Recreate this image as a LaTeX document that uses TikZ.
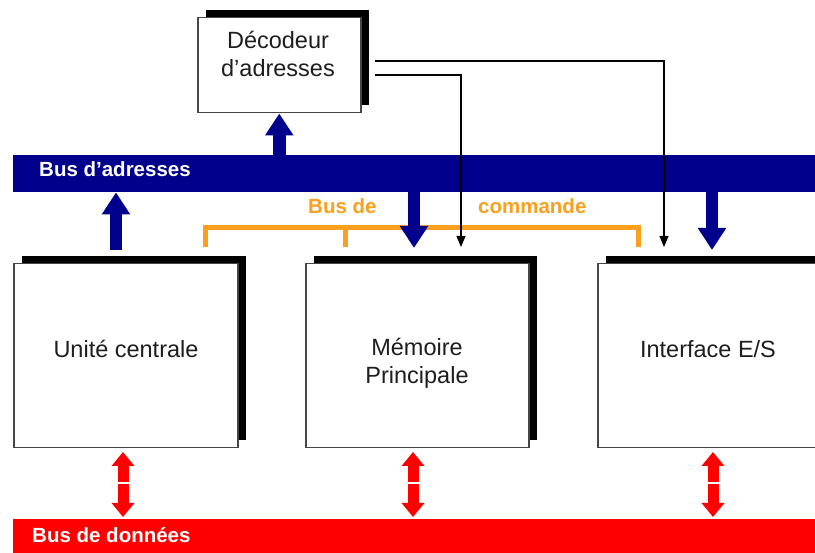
\documentclass[tikz,border=0pt]{standalone}
\usepackage{fontspec}
\setmainfont{Liberation Sans}
\usetikzlibrary{arrows.meta,shadows,calc}
\definecolor{busblue}{RGB}{0,0,140}
\definecolor{busred}{RGB}{255,0,0}
\definecolor{busorange}{RGB}{250,160,30}
\definecolor{txt}{RGB}{30,30,30}
\definecolor{edge}{RGB}{70,70,70}
\begin{document}
\begin{tikzpicture}[x=1pt,y=-1pt,
 unit/.style={draw=edge, line width=1.5pt, fill=white, inner sep=0pt, anchor=north west,
   drop shadow={shadow xshift=8pt, shadow yshift=8pt, fill=black, opacity=1}},
 lab/.style={text=txt, font=\fontsize{23.5}{28}\selectfont, align=center, inner sep=0pt},
 busbar/.style={inner sep=0pt, anchor=north west, minimum width=830pt},
 buslab/.style={font=\bfseries\fontsize{20.5}{24}\selectfont, inner sep=0pt, anchor=base west},
 bigarrow/.style={busblue, line width=12.5pt, -{Triangle[width=27pt,length=22pt]}},
 redarr/.style={busred, line width=11pt, -{Triangle[width=22pt,length=14pt]}},
 sig/.style={black, line width=1.2pt, -{Triangle[width=9pt,length=11pt]}},
 cmd/.style={busorange, line width=5pt}
]
\useasboundingbox (0,0) rectangle (815,553);
\clip (0,0) rectangle (815,553);
\fill[white] (0,0) rectangle (815,553);

% buses
\node[busbar, fill=busblue, minimum height=37pt] (ba) at (13,155) {};
\node[busbar, fill=busred, minimum height=40pt] (bd) at (13,519) {};
\node[buslab, text=white] (lba) at (39,177) {Bus d'adresses};
\node[buslab, text=white] (lbd) at (32,543) {Bus de données};

% boxes
\node[unit, minimum width=163pt, minimum height=95pt] (dec) at (197,17) {};
\node[unit, minimum width=224pt, minimum height=184pt] (cpu) at (13,263) {};
\node[unit, minimum width=223pt, minimum height=184pt] (mem) at (305,263) {};
\node[unit, minimum width=240pt, minimum height=184pt] (ie) at (597,263) {};

\node[lab] (tdec) at (278,54) {Décodeur\\d'adresses};
\node[lab, anchor=base] (tcpu) at (126,358) {Unité centrale};
\node[lab] (tmem) at (417,363.5) {Mémoire\\Principale};
\node[lab, anchor=base] (tie) at (708,358) {Interface E/S};

% bus de commande
\coordinate (k1) at (205,247);
\coordinate (k2) at (345,247);
\coordinate (k3) at (638,247);
\draw[cmd] (k1) -- (205,228) -- (638,228) -- (k3);
\draw[cmd] (345,228) -- (k2);
\node[buslab, text=busorange] (lc1) at (308,214) {Bus de};
\node[buslab, text=busorange] (lc2) at (478,214) {commande};

% address bus arrows
\coordinate (a1) at (116,250);
\draw[bigarrow] (a1) -- (a1 |- ba.south);
\draw[bigarrow] (dec.south |- ba.north) -- (dec.south);
\coordinate (a3) at (414,248);
\draw[bigarrow] (a3 |- ba.south) -- (a3);
\coordinate (a4) at (712,250);
\draw[bigarrow] (a4 |- ba.south) -- (a4);

% data bus arrows
\foreach \n/\x in {1/123, 2/413, 3/713}{
  \coordinate (rt\n) at (\x,452);
  \coordinate (ru\n) at (\x,482);
  \coordinate (rd\n) at (\x,484);
  \coordinate (rb\n) at (\x,517);
  \draw[redarr] (ru\n) -- (rt\n);
  \draw[redarr] (rd\n) -- (rb\n);
}

% decoder select lines
\coordinate (s1) at ([shift={(13,44)}]dec.north east);
\coordinate (s2) at ([shift={(13,58)}]dec.north east);
\coordinate (e1) at (664,247);
\coordinate (e2) at (461,247);
\draw[sig] (s1) -| (e1);
\draw[sig] (s2) -| (e2);
\end{tikzpicture}
\end{document}
